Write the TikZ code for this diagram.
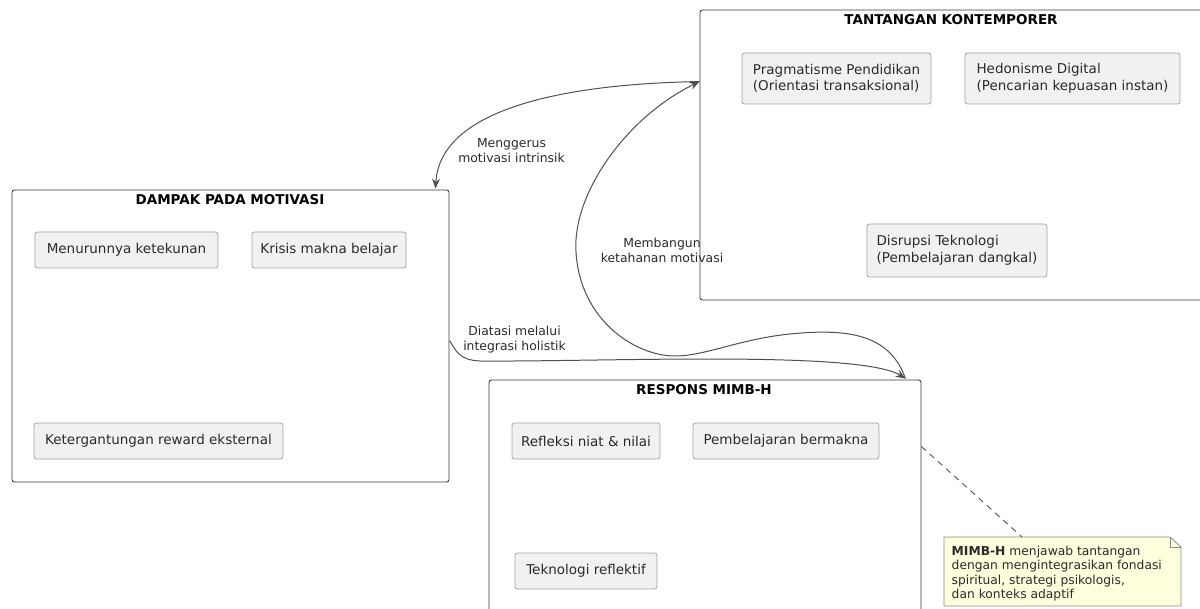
\documentclass[tikz,border=0pt]{standalone}
\usepackage{fontspec}
\setmainfont{DejaVu Sans}
\usetikzlibrary{arrows.meta,calc}
\definecolor{boxfill}{HTML}{F1F1F1}
\definecolor{boxline}{HTML}{A3A3A3}
\definecolor{grpline}{HTML}{3C3C3C}
\definecolor{txt}{HTML}{2A2A2A}
\definecolor{edgec}{HTML}{505050}
\definecolor{notefill}{HTML}{FEFFDD}
\definecolor{noteline}{HTML}{8A8A8A}
\tikzset{
  x=1pt,y=-1pt,
  grp/.style={draw=grpline,line width=0.9pt,rounded corners=2.5pt,inner sep=0pt},
  grptitle/.style={font=\fontsize{13.5}{15}\selectfont\bfseries,text=black,inner sep=0pt},
  item/.style={draw=boxline,fill=boxfill,line width=0.8pt,rounded corners=2.5pt,
    font=\fontsize{13.5}{16.5}\selectfont,text=txt,align=left,inner sep=0pt},
  elabel/.style={font=\fontsize{12.4}{15}\selectfont,text=txt,align=center,inner sep=0pt},
  conn/.style={draw=edgec,line width=1pt,-{Stealth[length=10pt,width=8pt,inset=3.5pt]}},
  notetext/.style={font=\fontsize{12.3}{14.3}\selectfont,text=txt,align=left,inner sep=0pt,anchor=north west},
}
\begin{document}
\begin{tikzpicture}
\useasboundingbox (0,0) rectangle (1200,609);
% groups
\node[grp,minimum width=503pt,minimum height=290pt] (tant) at (951.5,155) {};
\node[grptitle] (tantT) at (951,20) {TANTANGAN KONTEMPORER};
\node[grp,minimum width=437pt,minimum height=292pt] (damp) at (230.5,336) {};
\node[grptitle] (dampT) at (230,200) {DAMPAK PADA MOTIVASI};
\node[grp,minimum width=432pt,minimum height=238pt] (resp) at (705,499) {};
\node[grptitle] (respT) at (704,389.5) {RESPONS MIMB-H};
% items
\node[item,minimum width=189pt,minimum height=51pt] (prag) at (836.5,78.5) {Pragmatisme Pendidikan\\(Orientasi transaksional)};
\node[item,minimum width=215pt,minimum height=51pt] (hedo) at (1072.5,78.5) {Hedonisme Digital\\(Pencarian kepuasan instan)};
\node[item,minimum width=180pt,minimum height=53pt] (disr) at (957,250.5) {Disrupsi Teknologi\\(Pembelajaran dangkal)};
\node[item,minimum width=183pt,minimum height=36pt] (menu) at (126.5,250) {Menurunnya ketekunan};
\node[item,minimum width=154pt,minimum height=36pt] (kris) at (329,250) {Krisis makna belajar};
\node[item,minimum width=249pt,minimum height=36pt] (kete) at (158.5,441) {Ketergantungan reward eksternal};
\node[item,minimum width=148pt,minimum height=36pt] (refl) at (586,441) {Refleksi niat \& nilai};
\node[item,minimum width=186pt,minimum height=36pt] (pemb) at (786,441) {Pembelajaran bermakna};
\node[item,minimum width=142pt,minimum height=36pt] (tekn) at (586,571) {Teknologi reflektif};
% anchor coordinates
\coordinate (tantL) at ($(tant.north west)+(0,72)$);
\coordinate (dampTop) at ($(damp.north east)+(-14,-1)$);
\coordinate (dampR) at ($(damp.north east)+(0,151)$);
\coordinate (respTop) at ($(resp.north east)+(-16,-1)$);
\coordinate (respR) at ($(resp.north east)+(0,67)$);
% edges
\draw[conn] (tantL) .. controls (560,84) and (440,110) .. (dampTop);
\draw[conn] (respTop) .. controls (890,335) and (850,328) .. (790,334)
  .. controls (740,339) and (705,356) .. (675,356)
  .. controls (635,356) and (580,320) .. (576,252)
  .. controls (572,195) and (625,118) .. (tantL);
\draw[conn] (dampR) .. controls (456,350) and (458,360) .. (480,361)
  .. controls (600,362) and (860,350) .. (respTop);
% edge labels
\node[elabel] (l1) at (511.5,150.5) {Menggerus\\motivasi intrinsik};
\node[elabel] (l2) at (662,250.5) {Membangun\\ketahanan motivasi};
\node[elabel] (l3) at (514.5,340) {Diatasi melalui\\integrasi holistik};
% note
\coordinate (nNW) at (944,537);
\coordinate (nSE) at (1181,606);
\coordinate (nF1) at (1170,537);
\coordinate (nF2) at (1181,547);
\fill[notefill] (nNW) -- (nF1) -- (nF2) -- (nSE) -- (nNW |- nSE) -- cycle;
\node[notetext] (note) at (951.5,546) {\textbf{MIMB-H} menjawab tantangan\\dengan mengintegrasikan fondasi\\spiritual, strategi psikologis,\\dan konteks adaptif};
\draw[noteline,line width=0.8pt] (nNW) -- (nF1) -- (nF2) -- (nSE) -- (nNW |- nSE) -- cycle;
\draw[noteline,line width=0.8pt] (nF1) -- (nF1 |- nF2) -- (nF2);
\draw[edgec,line width=0.9pt,dash pattern=on 6pt off 5pt] (respR) -- (1022,537);
\end{tikzpicture}
\end{document}
